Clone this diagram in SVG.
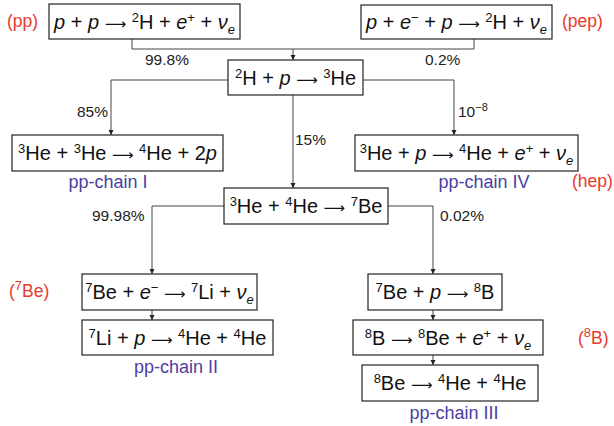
<svg xmlns="http://www.w3.org/2000/svg" width="614" height="426" viewBox="0 0 614 426">
<style>
.box{fill:#fff;stroke:#222;stroke-width:1.2}
.t{font-family:"Liberation Sans",Arial,sans-serif;font-size:20px;fill:#111;text-anchor:middle}
.i{font-style:italic}
.a{font-family:"DejaVu Sans",sans-serif;font-size:15px}
.sup{font-size:13px;baseline-shift:super}
.sub{font-size:13px;baseline-shift:-5px}
.pct{font-family:"Liberation Sans",Arial,sans-serif;font-size:15.5px;fill:#222}
.red{font-family:"Liberation Sans",Arial,sans-serif;font-size:17.5px;fill:#e8392c}
.blue{font-family:"Liberation Sans",Arial,sans-serif;font-size:18px;fill:#4b3ea3;text-anchor:middle}
.c{fill:none;stroke:#444;stroke-width:1}
</style>
<defs>
<marker id="ah" markerUnits="userSpaceOnUse" markerWidth="6" markerHeight="6" refX="5" refY="3" orient="auto">
<path d="M0,0.5 L5,3 L0,5.5 Z" fill="#222"/>
</marker>
</defs>
<g id="connectors">
<path class="c" d="M132,39 V49 H474 V39"/>
<path class="c" d="M293,49 V60" marker-end="url(#ah)"/>
<path class="c" d="M228,80 H111 V135" marker-end="url(#ah)"/>
<path class="c" d="M363,80 H454 V135" marker-end="url(#ah)"/>
<path class="c" d="M293,95 V188" marker-end="url(#ah)"/>
<path class="c" d="M224,206 H152 V274" marker-end="url(#ah)"/>
<path class="c" d="M388,206 H433 V274" marker-end="url(#ah)"/>
<path class="c" d="M152,310 V320" marker-end="url(#ah)"/>
<path class="c" d="M433,310 V320" marker-end="url(#ah)"/>
<path class="c" d="M433,355 V365" marker-end="url(#ah)"/>
</g>
<g id="labels">
<text class="pct" x="145" y="65">99.8%</text>
<text class="pct" x="425" y="65">0.2%</text>
<text class="pct" x="77" y="117">85%</text>
<text class="pct" x="458" y="117">10<tspan class="sup" style="font-size:11px">−8</tspan></text>
<text class="pct" x="295" y="145">15%</text>
<text class="pct" x="92" y="221">99.98%</text>
<text class="pct" x="440" y="221">0.02%</text>
<text class="red" x="7" y="27">(pp)</text>
<text class="red" x="562" y="27">(pep)</text>
<text class="red" x="572" y="187">(hep)</text>
<text class="red" x="9" y="297">(<tspan class="sup">7</tspan>Be)</text>
<text class="red" x="578" y="344">(<tspan class="sup">8</tspan>B)</text>
<text class="blue" x="108" y="188">pp-chain I</text>
<text class="blue" x="484" y="188">pp-chain IV</text>
<text class="blue" x="176" y="373">pp-chain II</text>
<text class="blue" x="454" y="419">pp-chain III</text>
</g>
<g id="n_pp">
<rect class="box" x="49" y="4" width="191" height="35"/>
<text class="t" x="144.5" y="29"><tspan class="i">p</tspan> + <tspan class="i">p</tspan> <tspan class="a">⟶</tspan> <tspan class="sup">2</tspan>H + <tspan class="i">e</tspan><tspan class="sup">+</tspan> + <tspan class="i">ν</tspan><tspan class="sub i">e</tspan></text>
</g>
<g id="n_pep">
<rect class="box" x="361" y="5" width="191" height="34"/>
<text class="t" x="456.5" y="29"><tspan class="i">p</tspan> + <tspan class="i">e</tspan><tspan class="sup">−</tspan> + <tspan class="i">p</tspan> <tspan class="a">⟶</tspan> <tspan class="sup">2</tspan>H + <tspan class="i">ν</tspan><tspan class="sub i">e</tspan></text>
</g>
<g id="n_2h">
<rect class="box" x="228" y="60" width="135" height="35"/>
<text class="t" x="295.5" y="85"><tspan class="sup">2</tspan>H + <tspan class="i">p</tspan> <tspan class="a">⟶</tspan> <tspan class="sup">3</tspan>He</text>
</g>
<g id="n_3he3he">
<rect class="box" x="12" y="135" width="211" height="36"/>
<text class="t" x="117.5" y="160"><tspan class="sup">3</tspan>He + <tspan class="sup">3</tspan>He <tspan class="a">⟶</tspan> <tspan class="sup">4</tspan>He + 2<tspan class="i">p</tspan></text>
</g>
<g id="n_hep">
<rect class="box" x="355" y="135" width="223" height="36"/>
<text class="t" x="466.5" y="160"><tspan class="sup">3</tspan>He + <tspan class="i">p</tspan> <tspan class="a">⟶</tspan> <tspan class="sup">4</tspan>He + <tspan class="i">e</tspan><tspan class="sup">+</tspan> + <tspan class="i">ν</tspan><tspan class="sub i">e</tspan></text>
</g>
<g id="n_3he4he">
<rect class="box" x="224" y="188" width="164" height="36"/>
<text class="t" x="306" y="213"><tspan class="sup">3</tspan>He + <tspan class="sup">4</tspan>He <tspan class="a">⟶</tspan> <tspan class="sup">7</tspan>Be</text>
</g>
<g id="n_7be_e">
<rect class="box" x="82" y="274" width="175" height="36"/>
<text class="t" x="169.5" y="299"><tspan class="sup">7</tspan>Be + <tspan class="i">e</tspan><tspan class="sup">−</tspan> <tspan class="a">⟶</tspan> <tspan class="sup">7</tspan>Li + <tspan class="i">ν</tspan><tspan class="sub i">e</tspan></text>
</g>
<g id="n_7li">
<rect class="box" x="82" y="320" width="191" height="35"/>
<text class="t" x="177.5" y="345"><tspan class="sup">7</tspan>Li + <tspan class="i">p</tspan> <tspan class="a">⟶</tspan> <tspan class="sup">4</tspan>He +  <tspan class="sup">4</tspan>He</text>
</g>
<g id="n_7be_p">
<rect class="box" x="368" y="274" width="134" height="36"/>
<text class="t" x="435" y="299"><tspan class="sup">7</tspan>Be + <tspan class="i">p</tspan> <tspan class="a">⟶</tspan> <tspan class="sup">8</tspan>B</text>
</g>
<g id="n_8b">
<rect class="box" x="353" y="320" width="190" height="35"/>
<text class="t" x="448" y="345"><tspan class="sup">8</tspan>B <tspan class="a">⟶</tspan> <tspan class="sup">8</tspan>Be + <tspan class="i">e</tspan><tspan class="sup">+</tspan> + <tspan class="i">ν</tspan><tspan class="sub i">e</tspan></text>
</g>
<g id="n_8be">
<rect class="box" x="362" y="365" width="176" height="36"/>
<text class="t" x="450" y="390"><tspan class="sup">8</tspan>Be <tspan class="a">⟶</tspan> <tspan class="sup">4</tspan>He + <tspan class="sup">4</tspan>He</text>
</g>
</svg>
